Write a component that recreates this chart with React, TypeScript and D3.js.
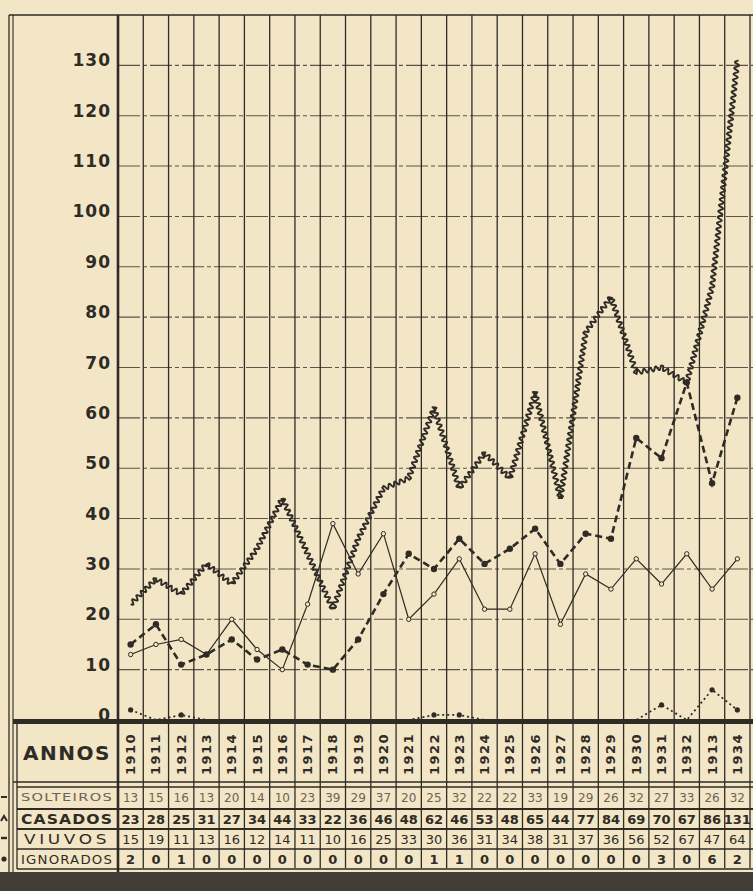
import React from "react";
import * as d3 from "d3";

// ---- data ----
const years = ["1910","1911","1912","1913","1914","1915","1916","1917","1918","1919","1920","1921","1922","1923","1924","1925","1926","1927","1928","1929","1930","1931","1932","1933","1934"];
// header labels as printed (the 1933 column is printed "1913")
const yearLabels = ["1910","1911","1912","1913","1914","1915","1916","1917","1918","1919","1920","1921","1922","1923","1924","1925","1926","1927","1928","1929","1930","1931","1932","1913","1934"];
const solteiros = [13,15,16,13,20,14,10,23,39,29,37,20,25,32,22,22,33,19,29,26,32,27,33,26,32];
const casados = [23,28,25,31,27,34,44,33,22,36,46,48,62,46,53,48,65,44,77,84,69,70,67,86,131];
const viuvos = [15,19,11,13,16,12,14,11,10,16,25,33,30,36,31,34,38,31,37,36,56,52,67,47,64];
const ignorados = [2,0,1,0,0,0,0,0,0,0,0,0,1,1,0,0,0,0,0,0,0,3,0,6,2];
const yTicks = [0,10,20,30,40,50,60,70,80,90,100,110,120,130];
const rowNames = ["SOLTEIROS","CASADOS","VIUVOS","IGNORADOS"];

const W = 753;
const H = 891;
const INK = "#2f2b25";
const PAPER = "#f3e6c7";

// plot geometry
const x = d3.scaleBand<string>().domain(years).range([118, 750]);
const y = d3.scaleLinear().domain([0, 140]).range([720, 15]);
const cx = (yr: string) => (x(yr) as number) + x.bandwidth() / 2;

// wavy line along a polyline (style of the "casados" series)
function wavyPath(pts: [number, number][], amp = 2.3, wl = 6) {
  const out: [number, number][] = [];
  let s = 0;
  for (let i = 0; i < pts.length - 1; i++) {
    const [x0, y0] = pts[i];
    const [x1, y1] = pts[i + 1];
    const dx = x1 - x0, dy = y1 - y0;
    const len = Math.hypot(dx, dy);
    const nx = -dy / len, ny = dx / len;
    const steps = Math.ceil(len / 0.8);
    for (let k = 0; k <= steps; k++) {
      const t = k / steps;
      const off = amp * Math.sin((2 * Math.PI * (s + t * len)) / wl);
      out.push([x0 + dx * t + nx * off, y0 + dy * t + ny * off]);
    }
    s += len;
  }
  return d3.line()(out) || "";
}

// table rows
const rowTops = [787, 809, 829, 849];
const rowH = 20;
const rowValues = [solteiros, casados, viuvos, ignorados];
const rowStyle = [
  { weight: 400, fill: "#6b6358", size: 12 },
  { weight: 700, fill: INK, size: 13 },
  { weight: 400, fill: INK, size: 13 },
  { weight: 700, fill: INK, size: 13 },
];

export default function App() {
  const line = d3.line<number>().x((_, i) => cx(years[i])).y(d => y(d));
  const casPts = casados.map((d, i) => [cx(years[i]), y(d)] as [number, number]);
  const font = "'DejaVu Sans', Verdana, sans-serif";

  return (
    <svg width={W} height={H} style={{ display: "block", position: "absolute", left: 0, top: 0 }}>
      <rect x={0} y={0} width={W} height={H} fill={PAPER} />

      {/* horizontal grid */}
      {yTicks.filter(t => t > 0).map(t => (
        <line key={"h" + t} x1={118} x2={W} y1={y(t)} y2={y(t)} stroke="#5a544a" strokeWidth={1.1} strokeDasharray="22 3 4 3" />
      ))}
      {/* vertical grid */}
      {years.map(yr => (
        <line key={"v" + yr} x1={(x(yr) as number) + x.bandwidth()} x2={(x(yr) as number) + x.bandwidth()} y1={15} y2={868} stroke={INK} strokeWidth={1.3} />
      ))}

      {/* frame */}
      <line x1={9} x2={W} y1={15} y2={15} stroke={INK} strokeWidth={1.6} />
      <line x1={9} x2={9} y1={15} y2={872} stroke={INK} strokeWidth={1.3} />
      <line x1={13} x2={13} y1={15} y2={872} stroke={INK} strokeWidth={1.1} />
      <line x1={17} x2={17} y1={722} y2={869} stroke={INK} strokeWidth={1.3} />
      <line x1={118} x2={118} y1={15} y2={872} stroke={INK} strokeWidth={2.6} />

      {/* y tick labels */}
      {yTicks.map(t => (
        <text key={"t" + t} x={111} y={y(t) - 4} textAnchor="end" dominantBaseline="middle"
          fontFamily={font} fontWeight={700} fontSize={17} letterSpacing={1} fill={INK}>{t}</text>
      ))}

      {/* solteiros: thin solid line, open circles */}
      <path d={line(solteiros) || ""} fill="none" stroke={INK} strokeWidth={1.2} />
      {solteiros.map((d, i) => (
        <circle key={"s" + i} cx={cx(years[i])} cy={y(d)} r={2.2} fill={PAPER} stroke={INK} strokeWidth={1} />
      ))}

      {/* viuvos: dashed line, filled dots */}
      <path d={line(viuvos) || ""} fill="none" stroke={INK} strokeWidth={2.6} strokeDasharray="7 4" />
      {viuvos.map((d, i) => (
        <circle key={"v" + i} cx={cx(years[i])} cy={y(d)} r={3.2} fill={INK} />
      ))}

      {/* ignorados: dotted line */}
      <path d={line(ignorados) || ""} fill="none" stroke={INK} strokeWidth={1.8} strokeDasharray="2 3" />
      {ignorados.map((d, i) => d > 0 ? (
        <circle key={"g" + i} cx={cx(years[i])} cy={y(d)} r={2.6} fill={INK} />
      ) : null)}

      {/* casados: wavy line */}
      <path d={wavyPath(casPts)} fill="none" stroke={INK} strokeWidth={1.9} strokeLinejoin="round" />

      {/* table */}
      <rect x={13} y={719} width={W - 13} height={5} fill={INK} />
      <line x1={13} x2={W} y1={782} y2={782} stroke={INK} strokeWidth={1.6} />
      {[787, 809, 829, 849, 869].map(v => (
        <line key={"r" + v} x1={17} x2={W} y1={v} y2={v} stroke={INK} strokeWidth={v === 809 || v === 829 ? 2 : 1.4} />
      ))}
      <text x={67} y={754} textAnchor="middle" dominantBaseline="middle" fontFamily={font}
        fontWeight={700} fontSize={20} letterSpacing={1.5} fill={INK}>ANNOS</text>
      {years.map((yr, i) => (
        <text key={"yl" + yr} transform={`translate(${cx(yr) + 1},754) rotate(-90)`} textAnchor="middle"
          dominantBaseline="middle" fontFamily={font} fontWeight={700} fontSize={13} letterSpacing={1.5} fill={INK}>
          {yearLabels[i]}
        </text>
      ))}
      {rowNames.map((name, r) => (
        <text key={"rn" + name} x={67} y={rowTops[r] + rowH / 2 + 1} textAnchor="middle" dominantBaseline="middle"
          fontFamily={font} fontWeight={r === 1 ? 800 : r === 0 ? 400 : 500} fontSize={r === 0 ? 11 : r === 3 ? 11.5 : 14}
          letterSpacing={r === 2 ? 3 : 1} fill={r === 0 ? "#6b6358" : INK}
          textLength={r === 2 ? 86 : 92} lengthAdjust="spacingAndGlyphs">{name}</text>
      ))}
      {rowValues.map((vals, r) => vals.map((v, i) => (
        <text key={"c" + r + "-" + i} x={cx(years[i])} y={rowTops[r] + rowH / 2 + 1} textAnchor="middle"
          dominantBaseline="middle" fontFamily={font} fontWeight={rowStyle[r].weight} fontSize={rowStyle[r].size}
          fill={rowStyle[r].fill}>{v}</text>
      )))}

      {/* left-side line-style keys */}
      <line x1={1} x2={7} y1={797} y2={797} stroke={INK} strokeWidth={2} />
      <path d="M1,821 L4,816 L7,821" fill="none" stroke={INK} strokeWidth={2} />
      <line x1={1} x2={7} y1={838} y2={838} stroke={INK} strokeWidth={2.4} />
      <circle cx={4} cy={859} r={2.6} fill={INK} />

      {/* dark band at the bottom */}
      <rect x={0} y={872} width={W} height={H - 872} fill="#423e37" />
    </svg>
  );
}
